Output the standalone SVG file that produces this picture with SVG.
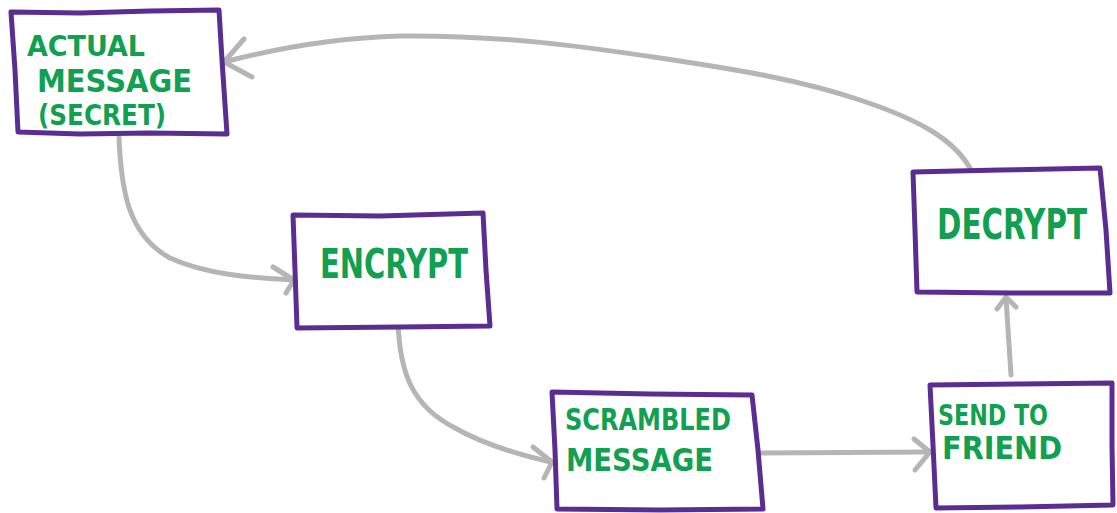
<svg xmlns="http://www.w3.org/2000/svg" width="1117" height="513" viewBox="0 0 1117 513">
<style>
.box{fill:#ffffff;stroke:#5c2d91;stroke-width:5;stroke-linejoin:round;stroke-linecap:round}
.lbl{fill:#10a050;font-family:"DejaVu Sans","Liberation Sans",sans-serif;font-weight:bold}
.con{fill:none;stroke:#b5b5b5;stroke-width:5;stroke-linecap:round;stroke-linejoin:round}
</style>
<rect width="1117" height="513" fill="#ffffff"/>
<g id="connectors">
<path class="con" d="M119,137 C121,190 128,235 170,258 C205,274 250,278 293,280"/>
<path class="con" d="M273,267 L294,280 L286,293"/>
<path class="con" d="M398,323 C400,370 410,405 455,428 C485,445 520,455 551,462"/>
<path class="con" d="M533,447 L552,462 L544,478"/>
<path class="con" d="M753,453 L930,452"/>
<path class="con" d="M914,439 L930,452 L915,470"/>
<path class="con" d="M1011,375 L1006,298"/>
<path class="con" d="M997,309 L1006,297 L1016,307"/>
<path class="con" d="M971,170 C955,140 920,120 860,100 C800,80 740,70 660,58 C580,46 500,35 400,36 C330,38 270,50 224,62"/>
<path class="con" d="M244,39 L224,62 L252,77"/>
</g>
<g id="node-actual">
<path class="box" d="M11,12 L80,13 L150,11 L219,10 L222,60 L227,134 L150,133 L80,134 L18,132 L15,70 Z"/>
<text class="lbl" x="27" y="56" font-size="28" textLength="118" lengthAdjust="spacingAndGlyphs">ACTUAL</text>
<text class="lbl" x="37" y="92" font-size="32" textLength="155" lengthAdjust="spacingAndGlyphs">MESSAGE</text>
<text class="lbl" x="38" y="125" font-size="28" textLength="128" lengthAdjust="spacingAndGlyphs">(SECRET)</text>
</g>
<g id="node-encrypt">
<path class="box" d="M293,215 L380,216 L483,213 L486,270 L490,326 L400,327 L297,328 L295,270 Z"/>
<text class="lbl" x="320" y="278" font-size="40" textLength="148" lengthAdjust="spacingAndGlyphs">ENCRYPT</text>
</g>
<g id="node-scrambled">
<path class="box" d="M552,392 L650,394 L752,395 L758,450 L763,509 L660,510 L557,509 L555,450 Z"/>
<text class="lbl" x="565" y="430" font-size="30" textLength="166" lengthAdjust="spacingAndGlyphs">SCRAMBLED</text>
<text class="lbl" x="566" y="471" font-size="32" textLength="147" lengthAdjust="spacingAndGlyphs">MESSAGE</text>
</g>
<g id="node-send">
<path class="box" d="M930,385 L1020,384 L1112,383 L1112,445 L1113,505 L1020,507 L936,508 L933,445 Z"/>
<text class="lbl" x="938" y="425" font-size="28" textLength="110" lengthAdjust="spacingAndGlyphs">SEND TO</text>
<text class="lbl" x="942" y="459" font-size="32" textLength="120" lengthAdjust="spacingAndGlyphs">FRIEND</text>
</g>
<g id="node-decrypt">
<path class="box" d="M913,172 L1000,170 L1100,168 L1106,230 L1110,293 L1010,293 L917,292 L915,230 Z"/>
<text class="lbl" transform="translate(937,239) scale(0.7,1)" x="0" y="0" font-size="42">DECRYPT</text>
</g>
</svg>
